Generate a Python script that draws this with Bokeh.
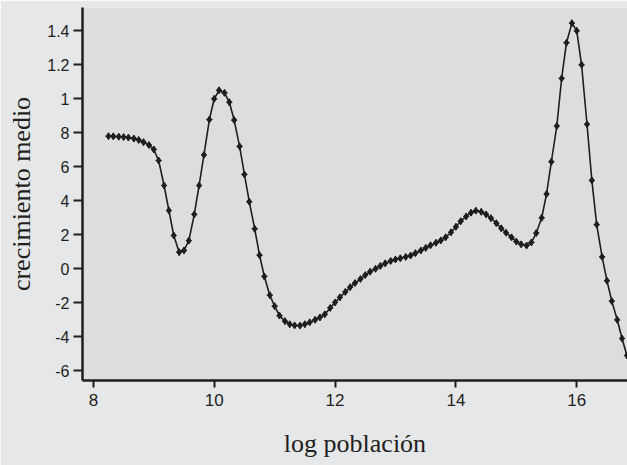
from bokeh.plotting import figure
from bokeh.models import Range1d, FixedTicker, ColumnDataSource
from bokeh.embed import file_html
from bokeh.resources import INLINE

# log population (x) and mean growth (y) along the smoothed curve
log_poblacion = [
    8.25, 8.33, 8.42, 8.50, 8.58, 8.67, 8.75, 8.83, 8.92, 9.00,
    9.08, 9.17, 9.25, 9.33, 9.42, 9.50, 9.58, 9.67, 9.75, 9.83,
    9.92, 10.00, 10.08, 10.17, 10.25, 10.33, 10.42, 10.50, 10.58, 10.67,
    10.75, 10.83, 10.92, 11.00, 11.08, 11.17, 11.25, 11.33, 11.42, 11.50,
    11.58, 11.67, 11.75, 11.83, 11.92, 12.00, 12.08, 12.17, 12.25, 12.33,
    12.42, 12.50, 12.58, 12.67, 12.75, 12.83, 12.92, 13.00, 13.08, 13.17,
    13.25, 13.33, 13.42, 13.50, 13.58, 13.67, 13.75, 13.83, 13.92, 14.00,
    14.08, 14.17, 14.25, 14.33, 14.42, 14.50, 14.58, 14.67, 14.75, 14.83,
    14.92, 15.00, 15.08, 15.17, 15.25, 15.33, 15.42, 15.50, 15.58, 15.67,
    15.75, 15.83, 15.92, 16.00, 16.08, 16.17, 16.25, 16.33, 16.42, 16.50,
    16.58, 16.67, 16.75, 16.83,
]
crecimiento_medio = [
    7.80, 7.79, 7.77, 7.75, 7.72, 7.66, 7.58, 7.45, 7.28, 7.02,
    6.37, 4.90, 3.43, 1.96, 0.98, 1.08, 1.66, 3.20, 4.90, 6.70,
    8.78, 10.00, 10.50, 10.35, 9.80, 8.75, 7.20, 5.55, 3.95, 2.35,
    0.80, -0.45, -1.55, -2.20, -2.75, -3.08, -3.26, -3.33, -3.34, -3.26,
    -3.15, -3.00, -2.86, -2.68, -2.30, -1.98, -1.68, -1.36, -1.08, -0.84,
    -0.60, -0.37, -0.17, 0.00, 0.17, 0.32, 0.46, 0.55, 0.62, 0.70,
    0.78, 0.92, 1.08, 1.23, 1.38, 1.53, 1.67, 1.85, 2.15, 2.47,
    2.80, 3.08, 3.30, 3.42, 3.35, 3.20, 2.98, 2.68, 2.38, 2.12,
    1.85, 1.60, 1.44, 1.37, 1.55, 2.10, 3.00, 4.40, 6.30, 8.40,
    11.20, 13.30, 14.45, 14.00, 12.00, 8.50, 5.20, 2.60, 0.70, -0.70,
    -1.90, -3.00, -4.10, -5.10,
]

x_ticks = [8, 10, 12, 14, 16]
y_ticks = [-6, -4, -2, 0, 2, 4, 6, 8, 10, 12, 14]
y_tick_labels = ["-6", "-4", "-2", "0", "2", "4", "6", "8", "1", "1.2", "1.4"]

src = ColumnDataSource(dict(x=log_poblacion, y=crecimiento_medio))

p = figure(
    width=627, height=465,
    output_backend="svg", toolbar_location=None,
    x_range=Range1d(7.82, 16.84), y_range=Range1d(-6.57, 15.37),
    min_border_left=82, min_border_right=0, min_border_top=7, min_border_bottom=85,
    background_fill_color="#dcdddf", border_fill_color="#e6e7e9",
)
p.outline_line_color = None
p.grid.visible = False

# connecting line plus a bold point marker at every sample
p.line("x", "y", source=src, line_color="#1e1e1e", line_width=1.6)
p.scatter("x", "y", source=src, marker="diamond", size=7,
          fill_color="#1e1e1e", line_color="#1e1e1e", line_width=1)
p.scatter("x", "y", source=src, marker="cross", size=6,
          line_color="#1e1e1e", line_width=1.2)

tick_font = "Liberation Sans"
label_font = "Liberation Serif"

xa = p.xaxis[0]
xa.ticker = FixedTicker(ticks=x_ticks)
xa.axis_line_width = 2.5
xa.axis_line_color = "#1e1e1e"
xa.major_tick_line_width = 2
xa.major_tick_line_color = "#1e1e1e"
xa.major_tick_out = 7
xa.major_tick_in = 0
xa.minor_tick_line_color = None
xa.major_label_text_font = tick_font
xa.major_label_text_font_size = "17px"
xa.major_label_text_color = "#231f20"
xa.major_label_standoff = 6
xa.axis_label = "log población"
xa.axis_label_text_font = label_font
xa.axis_label_text_font_style = "normal"
xa.axis_label_text_font_size = "26px"
xa.axis_label_text_color = "#231f20"
xa.axis_label_standoff = 20

ya = p.yaxis[0]
ya.ticker = FixedTicker(ticks=y_ticks)
ya.major_label_overrides = {t: lab for t, lab in zip(y_ticks, y_tick_labels)}
ya.axis_line_width = 2.5
ya.axis_line_color = "#1e1e1e"
ya.major_tick_line_width = 2
ya.major_tick_line_color = "#1e1e1e"
ya.major_tick_out = 9
ya.major_tick_in = 0
ya.minor_tick_line_color = None
ya.major_label_text_font = tick_font
ya.major_label_text_font_size = "16px"
ya.major_label_text_color = "#231f20"
ya.major_label_standoff = 4
ya.axis_label = "crecimiento medio"
ya.axis_label_text_font = label_font
ya.axis_label_text_font_style = "normal"
ya.axis_label_text_font_size = "26px"
ya.axis_label_text_color = "#231f20"
ya.axis_label_standoff = 8

open("out.html", "w").write(file_html(p, INLINE))
